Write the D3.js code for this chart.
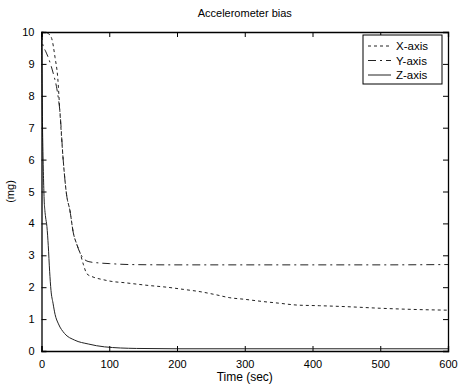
<!DOCTYPE html>
<html>
<head>
<meta charset="utf-8">
<script src="https://cdn.jsdelivr.net/npm/d3@7"></script>
<style>
  body { margin: 0; background: #fff; }
  text { font-family: "Liberation Sans", Arial, sans-serif; fill: #000; }
</style>
</head>
<body>
<svg width="459" height="385"></svg>
<script>
// values
const xTicks = [0, 100, 200, 300, 400, 500, 600];
const yTicks = [0, 1, 2, 3, 4, 5, 6, 7, 8, 9, 10];

const timeX = [0, 5, 10, 15, 20, 24, 27, 32, 37, 42, 47, 52, 57, 62, 67, 76, 90, 104, 123, 135, 160, 185, 210, 234, 256, 278, 300, 327, 350, 377, 410, 450, 500, 554, 600];
const biasX = [10, 9.98, 9.95, 9.8, 9.2, 8.56, 7.55, 6.0, 4.9, 4.4, 3.7, 3.35, 3.07, 2.7, 2.42, 2.32, 2.24, 2.18, 2.14, 2.11, 2.05, 2.0, 1.93, 1.86, 1.77, 1.67, 1.62, 1.55, 1.5, 1.44, 1.42, 1.39, 1.34, 1.3, 1.28];

const timeY = [0, 2, 6, 10, 14, 18, 22, 25, 27, 32, 37, 42, 47, 52, 57, 62, 70, 85, 100, 130, 200, 300, 400, 500, 600];
const biasY = [10, 9.6, 9.4, 9.2, 8.95, 8.65, 8.3, 7.9, 7.55, 6.0, 4.9, 4.4, 3.7, 3.35, 3.07, 2.9, 2.8, 2.76, 2.74, 2.71, 2.7, 2.7, 2.7, 2.7, 2.71];

const timeZ = [0, 0.5, 1, 2, 3, 4, 5, 6, 8, 10, 12, 14, 17, 20, 25, 34, 49, 69, 93, 140, 200, 300, 400, 500, 600];
const biasZ = [10, 9, 7.8, 6.4, 5.4, 4.7, 4.4, 4.2, 3.9, 3.3, 2.5, 1.9, 1.5, 1.15, 0.85, 0.55, 0.34, 0.22, 0.13, 0.08, 0.07, 0.07, 0.07, 0.07, 0.07];

const seriesNames = ["X-axis", "Y-axis", "Z-axis"];

const svg = d3.select("svg");
const mLeft = 41.5, mRight = 448, mTop = 32, mBottom = 351;

const x = d3.scaleLinear().domain([0, 600]).range([mLeft, mRight]);
const y = d3.scaleLinear().domain([0, 10]).range([mBottom, mTop]);

const series = [
  { name: seriesNames[0], t: timeX, v: biasX, dash: "3,3" },
  { name: seriesNames[1], t: timeY, v: biasY, dash: "8,4,2,4" },
  { name: seriesNames[2], t: timeZ, v: biasZ, dash: null }
];

const line = d3.line()
  .x((d) => x(d[0]))
  .y((d) => y(d[1]))
  .curve(d3.curveMonotoneX);

const plot = svg.append("g");
series.forEach((s) => {
  const pts = s.t.map((t, i) => [t, s.v[i]]);
  plot.append("path")
    .attr("d", line(pts))
    .attr("fill", "none")
    .attr("stroke", "#222")
    .attr("stroke-width", 1)
    .attr("stroke-dasharray", s.dash);
});

// axes, ticks inward on all four sides
const fontSize = 11;
const bottomAxis = d3.axisBottom(x).tickValues(xTicks).tickSize(-5).tickPadding(9);
const leftAxis = d3.axisLeft(y).tickValues(yTicks).tickSize(-5).tickPadding(7);
const topAxis = d3.axisTop(x).tickValues(xTicks).tickSize(-5).tickFormat("");
const rightAxis = d3.axisRight(y).tickValues(yTicks).tickSize(-5).tickFormat("");

const gB = svg.append("g").attr("transform", `translate(0,${mBottom})`).call(bottomAxis);
const gL = svg.append("g").attr("transform", `translate(${mLeft},0)`).call(leftAxis);
const gT = svg.append("g").attr("transform", `translate(0,${mTop})`).call(topAxis);
const gR = svg.append("g").attr("transform", `translate(${mRight},0)`).call(rightAxis);

[gB, gL, gT, gR].forEach((g) => {
  g.select(".domain").attr("stroke", "#000").attr("stroke-width", 1.3);
  g.selectAll(".tick line").attr("stroke", "#000");
  g.selectAll(".tick text")
    .style("font-family", "'Liberation Sans', Arial, sans-serif")
    .style("font-size", fontSize + "px")
    .attr("fill", "#000");
});

// title and labels
svg.append("text")
  .attr("x", (mLeft + mRight) / 2)
  .attr("y", 17)
  .attr("text-anchor", "middle")
  .style("font-size", "11px")
  .text("Accelerometer bias");

svg.append("text")
  .attr("x", (mLeft + mRight) / 2)
  .attr("y", 381)
  .attr("text-anchor", "middle")
  .style("font-size", "12px")
  .text("Time (sec)");

svg.append("text")
  .attr("transform", `translate(14,${(mTop + mBottom) / 2}) rotate(-90)`)
  .attr("text-anchor", "middle")
  .style("font-size", "11px")
  .text("(mg)");

// legend
const legend = svg.append("g").attr("transform", "translate(363,35)");
legend.append("rect")
  .attr("width", 79)
  .attr("height", 49)
  .attr("fill", "#fff")
  .attr("stroke", "#000")
  .attr("stroke-width", 1);

series.forEach((s, i) => {
  const ly = 11 + i * 14.5;
  legend.append("line")
    .attr("x1", 5).attr("x2", 28)
    .attr("y1", ly).attr("y2", ly)
    .attr("stroke", "#222")
    .attr("stroke-dasharray", s.dash);
  legend.append("text")
    .attr("x", 33)
    .attr("y", ly + 4)
    .style("font-size", "11.5px")
    .text(s.name);
});
</script>
</body>
</html>
